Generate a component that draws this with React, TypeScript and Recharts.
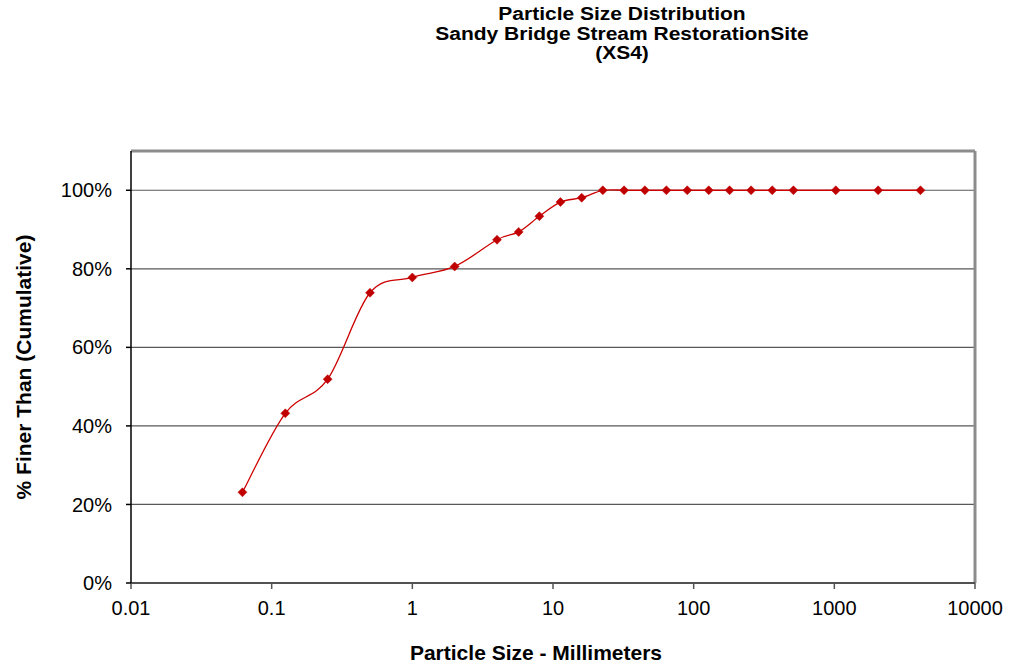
import React from "react";
import {
  LineChart,
  Line,
  XAxis,
  YAxis,
  CartesianGrid,
  ReferenceLine,
  Label,
} from "recharts";

// Sieve sizes (mm)
const sizes = [
  0.062, 0.125, 0.25, 0.5, 1, 2, 4, 5.7, 8, 11.3, 16, 22.6, 32, 45, 64, 90, 128,
  180, 256, 362, 512, 1024, 2048, 4096,
];
// Cumulative % finer (fraction)
const finer = [
  0.231, 0.432, 0.519, 0.739, 0.778, 0.806, 0.874, 0.894, 0.934, 0.97, 0.981, 1,
  1, 1, 1, 1, 1, 1, 1, 1, 1, 1, 1, 1,
];
const xTicks = [0.01, 0.1, 1, 10, 100, 1000, 10000];
const yTicks = [0, 0.2, 0.4, 0.6, 0.8, 1];
const titleLines = [
  "Particle Size Distribution",
  "Sandy Bridge Stream RestorationSite",
  "(XS4)",
];

const data = sizes.map((s, i) => ({ size: s, finer: finer[i] }));

const FONT = "'Liberation Sans', Arial, sans-serif";

// Excel-style smoothed line (Catmull-Rom through the points)
const smoothCurve = (context: any) => {
  let pts: [number, number][] = [];
  return {
    areaStart() {},
    areaEnd() {},
    lineStart() {
      pts = [];
    },
    point(x: number, y: number) {
      pts.push([+x, +y]);
    },
    lineEnd() {
      if (!pts.length) return;
      context.moveTo(pts[0][0], pts[0][1]);
      const t = 1 / 6;
      for (let i = 0; i < pts.length - 1; i++) {
        const p0 = pts[i - 1] || pts[i];
        const p1 = pts[i];
        const p2 = pts[i + 1];
        const p3 = pts[i + 2] || p2;
        context.bezierCurveTo(
          p1[0] + (p2[0] - p0[0]) * t,
          p1[1] + (p2[1] - p0[1]) * t,
          p2[0] - (p3[0] - p1[0]) * t,
          p2[1] - (p3[1] - p1[1]) * t,
          p2[0],
          p2[1]
        );
      }
    },
  };
};

const Diamond = (props: any) => {
  const { cx, cy, index } = props;
  if (cx == null || cy == null) return <g key={`d-${index}`} />;
  const r = 4.5;
  return (
    <path
      key={`d-${index}`}
      d={`M${cx},${cy - r}L${cx + r},${cy}L${cx},${cy + r}L${cx - r},${cy}Z`}
      fill="#C00000"
      stroke="#C00000"
      strokeWidth={0.5}
    />
  );
};

const fmtX = (v: number) => String(v);
const fmtY = (v: number) => `${Math.round(v * 100)}%`;

export default function App() {
  return (
    <div
      style={{
        position: "absolute",
        left: 0,
        top: 0,
        width: 1015,
        height: 670,
        background: "#fff",
        fontFamily: FONT,
      }}
    >
      {titleLines.map((l, i) => (
        <div
          key={l}
          style={{
            position: "absolute",
            left: 322,
            width: 600,
            top: 5 + i * 19.5,
            height: 19.5,
            textAlign: "center",
            fontWeight: "bold",
            fontSize: 17.5,
            lineHeight: "19.5px",
            color: "#000",
            fontFamily: FONT,
            transform: "scaleX(1.2)",
            transformOrigin: "50% 50%",
            whiteSpace: "nowrap",
          }}
        >
          {l}
        </div>
      ))}
      <LineChart
        width={1015}
        height={670}
        data={data}
        margin={{ top: 151, right: 40, bottom: 0, left: 0 }}
      >
        <CartesianGrid
          horizontal={true}
          vertical={false}
          stroke="#595959"
          strokeWidth={1.2}
          horizontalValues={yTicks}
        />
        <XAxis
          dataKey="size"
          type="number"
          scale="log"
          domain={[0.01, 10000]}
          ticks={xTicks}
          tickFormatter={fmtX}
          allowDataOverflow
          height={87}
          stroke="#333"
          strokeWidth={1.5}
          tickSize={6}
          tickMargin={12}
          tick={{ fontSize: 20, fill: "#000", fontFamily: FONT }}
          tickLine={{ stroke: "#555" }}
          interval={0}
        >
          <Label
            content={() => (
              <text
                x={536}
                y={660}
                textAnchor="middle"
                fontFamily={FONT}
                fontSize={21}
                fontWeight="bold"
                fill="#000"
              >
                Particle Size - Millimeters
              </text>
            )}
          />
        </XAxis>
        <YAxis
          type="number"
          domain={[0, 1.1]}
          ticks={yTicks}
          tickFormatter={fmtY}
          width={131}
          stroke="#000"
          strokeWidth={1.5}
          tickSize={5}
          tickMargin={14}
          tick={{ fontSize: 20, fill: "#000", fontFamily: FONT }}
          interval={0}
          allowDataOverflow
        >
          <Label
            content={() => (
              <text
                x={31}
                y={367}
                transform="rotate(-90, 31, 367)"
                textAnchor="middle"
                fontFamily={FONT}
                fontSize={21}
                fontWeight="bold"
                fill="#000"
              >
                % Finer Than (Cumulative)
              </text>
            )}
          />
        </YAxis>
        <ReferenceLine y={1.1} stroke="#8c8c8c" strokeWidth={3} />
        <ReferenceLine x={10000} stroke="#8c8c8c" strokeWidth={3} />
        <Line
          dataKey="finer"
          type={smoothCurve as any}
          stroke="#CC0000"
          strokeWidth={1.3}
          dot={Diamond}
          activeDot={false}
          isAnimationActive={false}
        />
      </LineChart>
    </div>
  );
}
